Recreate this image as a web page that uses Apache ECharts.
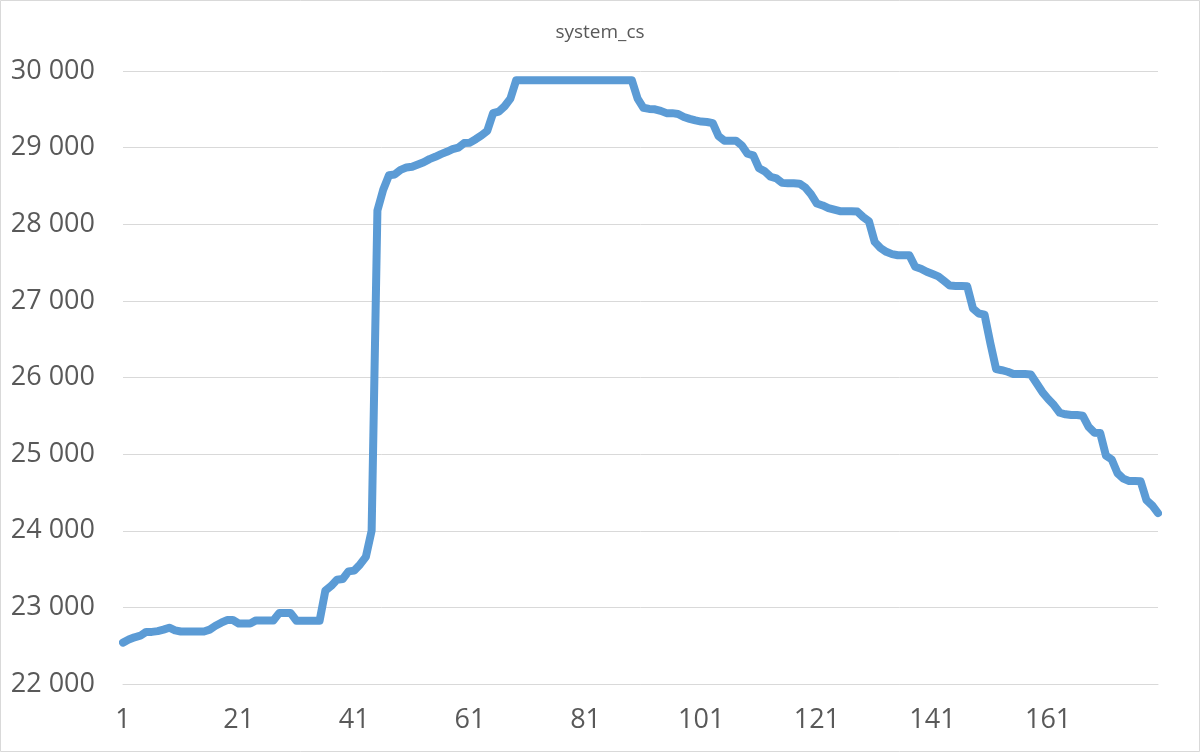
<!DOCTYPE html>
<html>
<head>
<meta charset="utf-8">
<script src="https://cdn.jsdelivr.net/npm/echarts@6/dist/echarts.min.js"></script>
<style>
html,body{margin:0;padding:0;background:#fff;}
#c{width:1200px;height:752px;}
</style>
</head>
<body>
<div id="c"></div>
<script>
const titleText = 'system_cs';
const yTicks = { min: 22000, max: 30000, interval: 1000 };
const values = [
  22540,22580,22610,22630,22680,22680,22690,22710,22735,22700,
  22685,22685,22685,22685,22685,22710,22760,22800,22835,22835,
  22790,22790,22790,22830,22830,22830,22830,22925,22925,22925,
  22825,22825,22825,22825,22825,23220,23280,23360,23370,23470,
  23480,23560,23660,24000,28180,28450,28640,28650,28710,28740,
  28750,28780,28810,28850,28880,28915,28945,28980,29000,29060,
  29065,29110,29160,29220,29450,29470,29540,29640,29880,29880,
  29880,29880,29880,29880,29880,29880,29880,29880,29880,29880,
  29880,29880,29880,29880,29880,29880,29880,29880,29880,29640,
  29520,29505,29500,29480,29450,29450,29440,29400,29375,29355,
  29340,29335,29320,29150,29090,29090,29090,29030,28920,28900,
  28730,28690,28620,28600,28540,28535,28535,28530,28480,28390,
  28270,28245,28210,28190,28170,28170,28170,28165,28095,28040,
  27770,27690,27640,27610,27595,27595,27595,27445,27420,27380,
  27350,27320,27260,27200,27195,27195,27190,26900,26835,26820,
  26450,26110,26095,26075,26045,26045,26045,26040,25925,25810,
  25720,25640,25540,25520,25510,25510,25500,25355,25280,25275,
  24980,24930,24750,24680,24650,24650,24645,24400,24330,24230
];
const categories = values.map((_, i) => String(i + 1));

const fmt = v => String(v).replace(/\B(?=(\d{3})+(?!\d))/g, ' ');
const FONT = '"Open Sans", "Liberation Sans", sans-serif';

const chart = echarts.init(document.getElementById('c'), null, { renderer: 'canvas' });
chart.setOption({
  animation: false,
  backgroundColor: '#ffffff',
  title: {
    text: titleText,
    left: 'center',
    top: 18,
    textStyle: { fontFamily: FONT, fontSize: 19, fontWeight: 'normal', color: '#595959' }
  },
  graphic: [{
    type: 'rect',
    shape: { x: 0.5, y: 0.5, width: 1199, height: 751 },
    style: { fill: null, stroke: '#d9d9d9', lineWidth: 1 },
    silent: true
  }],
  grid: { left: 123, right: 42, top: 71, bottom: 68, containLabel: false },
  xAxis: {
    type: 'category',
    data: categories,
    boundaryGap: false,
    axisLine: { show: true, lineStyle: { color: '#d9d9d9', width: 1 } },
    axisTick: { show: false },
    axisLabel: {
      interval: 19,
      margin: 23,
      fontFamily: FONT,
      fontSize: 27,
      color: '#595959'
    },
    splitLine: { show: false }
  },
  yAxis: {
    type: 'value',
    min: yTicks.min,
    max: yTicks.max,
    interval: yTicks.interval,
    axisLine: { show: false },
    axisTick: { show: false },
    axisLabel: {
      margin: 28,
      fontFamily: FONT,
      fontSize: 27,
      color: '#595959',
      formatter: fmt
    },
    splitLine: { show: true, lineStyle: { color: '#d9d9d9', width: 1 } }
  },
  series: [{
    type: 'line',
    data: values,
    showSymbol: false,
    symbol: 'none',
    lineStyle: { color: '#5b9bd5', width: 8, join: 'round', cap: 'round' },
    itemStyle: { color: '#5b9bd5' }
  }]
});
</script>
</body>
</html>
